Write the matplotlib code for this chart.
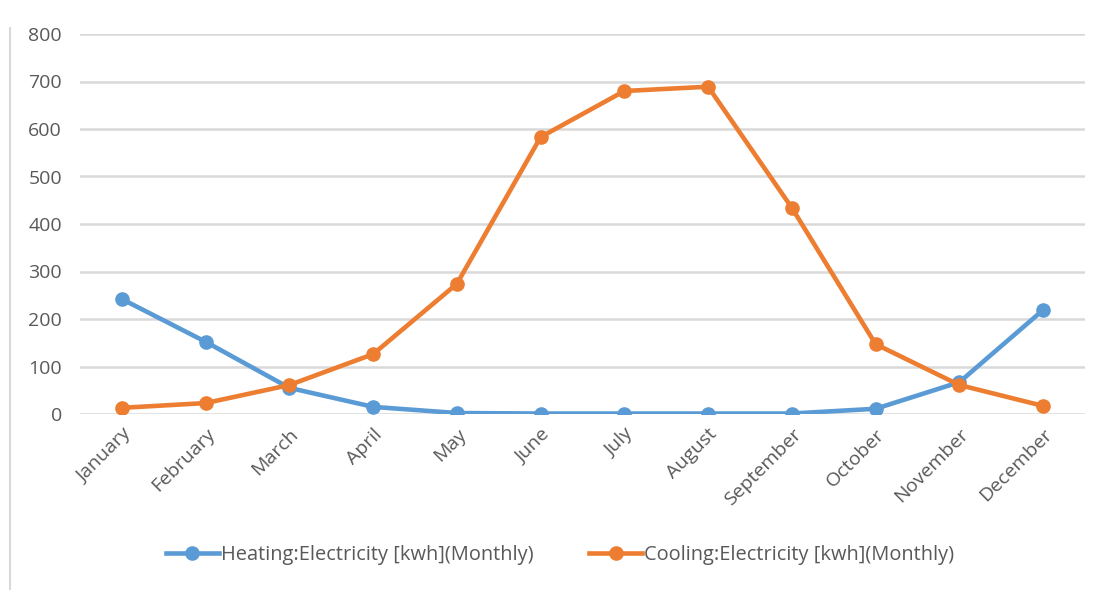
import matplotlib
matplotlib.use("Agg")
import matplotlib.pyplot as plt
from matplotlib.lines import Line2D

months = ["January", "February", "March", "April", "May", "June", "July",
          "August", "September", "October", "November", "December"]
heating = [242, 152, 55, 15, 2, 1, 1, 1, 1, 11, 67, 219]
cooling = [13, 23, 61, 126, 274, 583, 680, 689, 434, 147, 61, 17]
y_ticks = [0, 100, 200, 300, 400, 500, 600, 700, 800]

blue = "#5B9BD5"
orange = "#ED7D31"
text_col = "#595959"
grid_col = "#D9D9D9"

plt.rcParams["font.family"] = ["Open Sans", "DejaVu Sans"]

fig = plt.figure(figsize=(11.05, 5.9), dpi=100)
ax = fig.add_axes([80 / 1105, 1 - 414 / 590, 1005 / 1105, 380 / 590])

x = range(len(months))
ax.plot(x, heating, color=blue, lw=3.3, marker="o", ms=9.5,
        label="Heating:Electricity [kwh](Monthly)", zorder=3)
ax.plot(x, cooling, color=orange, lw=3.3, marker="o", ms=9.5,
        label="Cooling:Electricity [kwh](Monthly)", zorder=3)

ax.set_xlim(-0.5, len(months) - 0.5)
ax.set_ylim(0, 800)
ax.set_yticks(y_ticks)
ax.set_xticks(list(x))
ax.set_xticklabels(months, rotation=45, ha="right", rotation_mode="anchor")
ax.yaxis.grid(True, color=grid_col, lw=1.8)
ax.set_axisbelow(True)
for s in ax.spines.values():
    s.set_visible(False)
ax.tick_params(axis="both", length=0, colors=text_col, labelsize=14)
ax.tick_params(axis="y", pad=13)
ax.tick_params(axis="x", pad=8)

leg = fig.legend(loc="center", bbox_to_anchor=(0.507, 1 - 555 / 590), ncol=2,
                 frameon=False, fontsize=14.4, handlelength=2.65,
                 handletextpad=0.1, columnspacing=2.8, labelcolor=text_col)

# thin border line at the left edge of the canvas
fig.add_artist(Line2D([10 / 1105, 10 / 1105], [0, 1 - 28 / 590],
                      transform=fig.transFigure, color=grid_col, lw=1.5))

fig.savefig("out.png", dpi=100, facecolor="white")
